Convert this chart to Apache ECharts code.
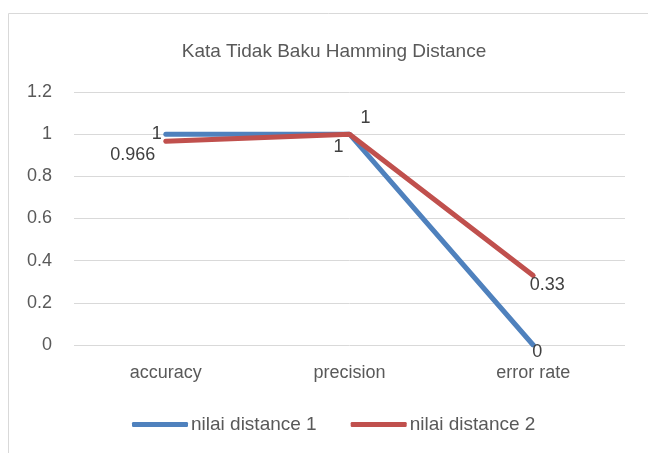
<!DOCTYPE html>
<html>
<head>
<meta charset="utf-8">
<script src="https://cdn.jsdelivr.net/npm/echarts@6/dist/echarts.min.js"></script>
<style>
  html, body { margin: 0; padding: 0; background: #fff; }
  #chart { width: 648px; height: 453px; }
</style>
</head>
<body>
<div id="chart"></div>
<script>
// data
const categories = ['accuracy', 'precision', 'error rate'];
const distance1 = [1, 1, 0];
const distance2 = [0.966, 1, 0.33];
const yTicks = [0, 0.2, 0.4, 0.6, 0.8, 1, 1.2];

const FONT = 'Liberation Sans';
const TXT = '#595959';

function initChart(dom){
    let chartDom = document.getElementById(dom);
    let chartInstance = echarts.getInstanceByDom(chartDom);
    if(chartInstance){
        return chartInstance;
    }
    return echarts.init(chartDom);
}

// label placement per point, like the original
function labelled(values, offsets){
    return values.map((v, i) => ({
        value: v,
        label: { show: true, position: 'inside', offset: offsets[i] }
    }));
}

let myChart = initChart('chart');
let option = {
    animation: false,
    graphic: [{
        type: 'rect',
        shape: { x: 8.5, y: 13.5, width: 700, height: 500 },
        style: { fill: 'none', stroke: '#d9d9d9', lineWidth: 1 },
        silent: true
    }],
    title: {
        text: 'Kata Tidak Baku Hamming Distance',
        left: 329, top: 37, textAlign: 'center',
        textStyle: { fontFamily: FONT, fontSize: 19, fontWeight: 'normal', color: TXT }
    },
    grid: { left: 74, right: 23, top: 92, bottom: 108 },
    legend: {
        top: 410, left: 127,
        itemWidth: 56, itemHeight: 5, itemGap: 34,
        icon: 'roundRect',
        textStyle: { fontFamily: FONT, fontSize: 19, color: TXT, padding: [0, 0, 0, -2] },
        data: ['nilai distance 1', 'nilai distance 2']
    },
    xAxis: {
        type: 'category',
        data: categories,
        boundaryGap: true,
        axisLine: { show: false },
        axisTick: { show: false },
        axisLabel: { fontFamily: FONT, fontSize: 18, color: TXT, margin: 19 }
    },
    yAxis: {
        type: 'value',
        min: yTicks[0], max: yTicks[yTicks.length - 1], interval: 0.2,
        axisLine: { show: false },
        axisTick: { show: false },
        splitLine: { lineStyle: { color: '#d9d9d9', width: 1 } },
        axisLabel: {
            fontFamily: FONT, fontSize: 18, color: TXT, margin: 22,
            formatter: v => String(Math.round(v * 10) / 10)
        }
    },
    series: [{
        name: 'nilai distance 1',
        type: 'line',
        data: labelled(distance1, [[-9, 0], [16, -16], [4, 7]]),
        symbol: 'circle', symbolSize: 4, showAllSymbol: true,
        lineStyle: { width: 5, color: '#4f81bd', cap: 'round' },
        itemStyle: { color: '#4f81bd' },
        label: { fontFamily: FONT, fontSize: 18, color: '#404040' },
        z: 2
    }, {
        name: 'nilai distance 2',
        type: 'line',
        data: labelled(distance2, [[-33, 14], [-11, 13], [14, 10]]),
        symbol: 'circle', symbolSize: 4, showAllSymbol: true,
        lineStyle: { width: 5, color: '#c0504d', cap: 'round' },
        itemStyle: { color: '#c0504d' },
        label: { fontFamily: FONT, fontSize: 18, color: '#404040' },
        z: 3
    }]
};
myChart.setOption(option);
</script>
</body>
</html>
